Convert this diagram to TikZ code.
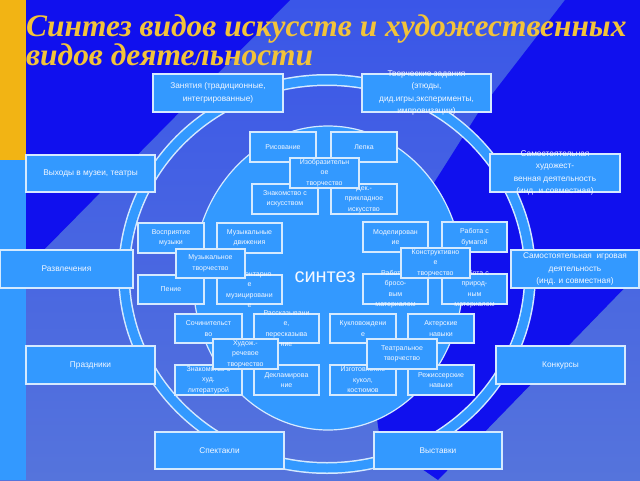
\documentclass[tikz,border=0pt]{standalone}
\usepackage{fontspec}
\setmainfont{Liberation Sans}
\newfontfamily\titlefont{Liberation Serif}
\definecolor{bgdark}{HTML}{1010EE}
\definecolor{bgmid}{HTML}{3A56E8}
\definecolor{bglow}{HTML}{5574DC}
\definecolor{orangebar}{HTML}{F2B414}
\definecolor{boxblue}{HTML}{3399FF}
\definecolor{titlegold}{HTML}{F2C33A}
\definecolor{edgecol}{HTML}{D5EAFF}
\definecolor{txtcol}{HTML}{F4F8FF}
\tikzset{
  boxsty/.style={draw=edgecol, line width=1.1pt, fill=boxblue, inner sep=0pt, outer sep=0pt},
  otxt/.style={text=txtcol, align=center, inner sep=0pt, font=\fontsize{8.3}{12.4}\selectfont},
  itxt/.style={text=txtcol, align=center, inner sep=0pt, font=\fontsize{7}{10.5}\selectfont},
  ttl/.style={text=titlegold, anchor=base west, inner sep=0pt, font=\titlefont\bfseries\itshape\fontsize{31.4}{28}\selectfont},
}
\newcommand{\bx}[7]{%
  \node[boxsty, minimum width={#4-#2}, minimum height={#5-#3}] (#1) at ({(#2+#4)/2},{(#3+#5)/2}) {};
  \node[#6] (#1t) at (#1.center) {#7};}
\begin{document}
\begin{tikzpicture}[x=1pt,y=-1pt]
\useasboundingbox (0,0) rectangle (640,480);
% background
\shade[top color=bgmid, bottom color=bglow] (0,0) rectangle (640,480);
\fill[bgdark] (26,0) -- (290,0) -- (26,268) -- cycle;
\fill[bgdark] (565,0) -- (640,0) -- (640,272) -- (438,480) -- (380,440) -- (360,300) -- (480,110) -- cycle;
\fill[orangebar] (0,0) rectangle (26,160);
\fill[boxblue] (0,160) rectangle (26,480);
% title
\node[ttl] (title1) at (26,36) {Синтез видов искусств и художественных};
\node[ttl] (title2) at (26,65) {видов деятельности};
% outer ring
\draw[edgecol, line width=12pt] (327,274) ellipse [x radius=203, y radius=194];
\draw[boxblue, line width=9pt] (327,274) ellipse [x radius=203, y radius=194];
% outer boxes
\bx{zan}{153}{74}{283}{112}{otxt}{Занятия (традиционные,\\интегрированные)}
\bx{tvor}{362}{74}{491}{112}{otxt}{Творческие задания\\(этюды,\\дид.игры,эксперименты,\\импровизации)}
\bx{vyh}{26}{155}{155}{192}{otxt}{Выходы в музеи, театры}
\bx{samh}{490}{154}{620}{192}{otxt}{Самостоятельная\\художест-\\венная деятельность\\(инд. и совместная)}
\bx{razv}{0}{250}{133}{288}{otxt}{Развлечения}
\bx{sami}{511}{250}{639}{288}{otxt}{Самостоятельная\ \ игровая\\деятельность\\(инд. и совместная)}
\bx{prazd}{26}{346}{155}{384}{otxt}{Праздники}
\bx{konk}{496}{346}{625}{384}{otxt}{Конкурсы}
\bx{spek}{155}{432}{284}{469}{otxt}{Спектакли}
\bx{vyst}{374}{432}{502}{469}{otxt}{Выставки}
% inner circle
\draw[edgecol, line width=1.2pt, fill=boxblue] (328,278) ellipse [x radius=135, y radius=152];
\node[text=txtcol, font=\fontsize{20}{24}\selectfont, inner sep=0pt] (sintez) at (325,277) {синтез};
% group: изобразительное
\bx{ris}{250}{132}{316}{162}{itxt}{Рисование}
\bx{lep}{331}{132}{397}{162}{itxt}{Лепка}
\bx{znak}{252}{184}{318}{214}{itxt}{Знакомство с\\искусством}
\bx{dek}{331}{184}{397}{214}{itxt}{Дек.-\\прикладное\\искусство}
\bx{izo}{290}{158}{359}{188}{itxt}{Изобразительн\\ое\\творчество}
% group: музыкальное
\bx{vosp}{138}{223}{204}{253}{itxt}{Восприятие\\музыки}
\bx{mdv}{217}{223}{282}{253}{itxt}{Музыкальные\\движения}
\bx{pen}{138}{275}{204}{304}{itxt}{Пение}
\bx{elem}{217}{275}{282}{304}{itxt}{Элементарно\\е\\музицировани\\е}
\bx{muz}{176}{249}{245}{278}{itxt}{Музыкальное\\творчество}
% group: конструктивное
\bx{mod}{363}{222}{428}{252}{itxt}{Моделирован\\ие}
\bx{bum}{442}{222}{507}{252}{itxt}{Работа с\\бумагой}
\bx{bros}{363}{274}{428}{304}{itxt}{Работа с\\бросо-\\вым\\материалом}
\bx{prir}{442}{274}{507}{304}{itxt}{Работа с\\природ-\\ным\\материалом}
\bx{kon}{401}{248}{470}{278}{itxt}{Конструктивно\\е\\творчество}
% group: худож.-речевое
\bx{soch}{175}{314}{242}{343}{itxt}{Сочинительст\\во}
\bx{rass}{254}{314}{319}{343}{itxt}{Рассказывани\\е,\\пересказыва\\ние}
\bx{znh}{175}{365}{242}{395}{itxt}{Знакомство с\\худ.\\литературой}
\bx{dekl}{254}{365}{319}{395}{itxt}{Декламирова\\ние}
\bx{hud}{213}{339}{278}{369}{itxt}{Худож.-\\речевое\\творчество}
% group: театральное
\bx{kuk}{330}{314}{396}{343}{itxt}{Кукловождени\\е}
\bx{akt}{408}{314}{474}{343}{itxt}{Актерские\\навыки}
\bx{izg}{330}{365}{396}{395}{itxt}{Изготовление\\кукол,\\костюмов}
\bx{rezh}{408}{365}{474}{395}{itxt}{Режиссерские\\навыки}
\bx{teat}{367}{339}{437}{369}{itxt}{Театральное\\творчество}
\end{tikzpicture}
\end{document}
